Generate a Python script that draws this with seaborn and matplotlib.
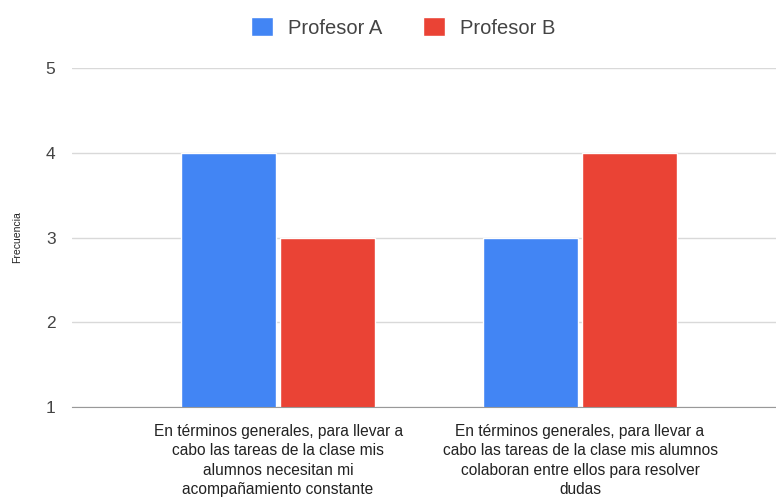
import matplotlib
matplotlib.use("Agg")
import matplotlib.pyplot as plt
import seaborn as sns
import pandas as pd

# datos
categorias = [
    "En términos generales, para llevar a\ncabo las tareas de la clase mis\nalumnos necesitan mi\nacompañamiento constante",
    "En términos generales, para llevar a\ncabo las tareas de la clase mis alumnos\ncolaboran entre ellos para resolver\ndudas",
]
profesor_a = [4, 3]
profesor_b = [3, 4]
series = ["Profesor A", "Profesor B"]
colores = ["#4285F4", "#EA4335"]

df = pd.DataFrame({
    "categoria": categorias * 2,
    "profesor": [series[0]] * 2 + [series[1]] * 2,
    "valor": profesor_a + profesor_b,
})

sns.set_style("white")
plt.rcParams["font.family"] = ["Liberation Sans", "DejaVu Sans"]

fig = plt.figure(figsize=(7.76, 4.97), dpi=100)
ax = fig.add_axes([0.093, 0.181, 0.907, 0.682])

sns.barplot(data=df, x="categoria", y="valor", hue="profesor",
            palette=colores, width=0.66, gap=0.046, ax=ax,
            saturation=1, legend=True)

ax.set_ylim(1, 5)
ax.set_xlim(-0.682, 1.649)
ax.set_yticks([1, 2, 3, 4, 5])
ax.yaxis.grid(True, color="#d9d9d9", linewidth=1)
ax.set_axisbelow(True)
for s in ["top", "right", "left"]:
    ax.spines[s].set_visible(False)
ax.spines["bottom"].set_color("#999999")
ax.tick_params(axis="y", length=0, labelsize=12.5, labelcolor="#444444", pad=12)
ax.tick_params(axis="x", length=0, labelsize=11.2, labelcolor="#222222", pad=12)
for lbl in ax.get_xticklabels():
    lbl.set_linespacing(1.38)
ax.set_xlabel("")
ax.set_ylabel("Frecuencia", fontsize=7.5, color="#222222", labelpad=17)

ax.legend(loc="center", bbox_to_anchor=(0.47, 1.12), ncol=2, frameon=False,
          fontsize=14.5, handlelength=1.1, handleheight=1.1, columnspacing=2.0,
          handletextpad=0.75, labelcolor="#444444")

fig.savefig("out.png", dpi=100)
